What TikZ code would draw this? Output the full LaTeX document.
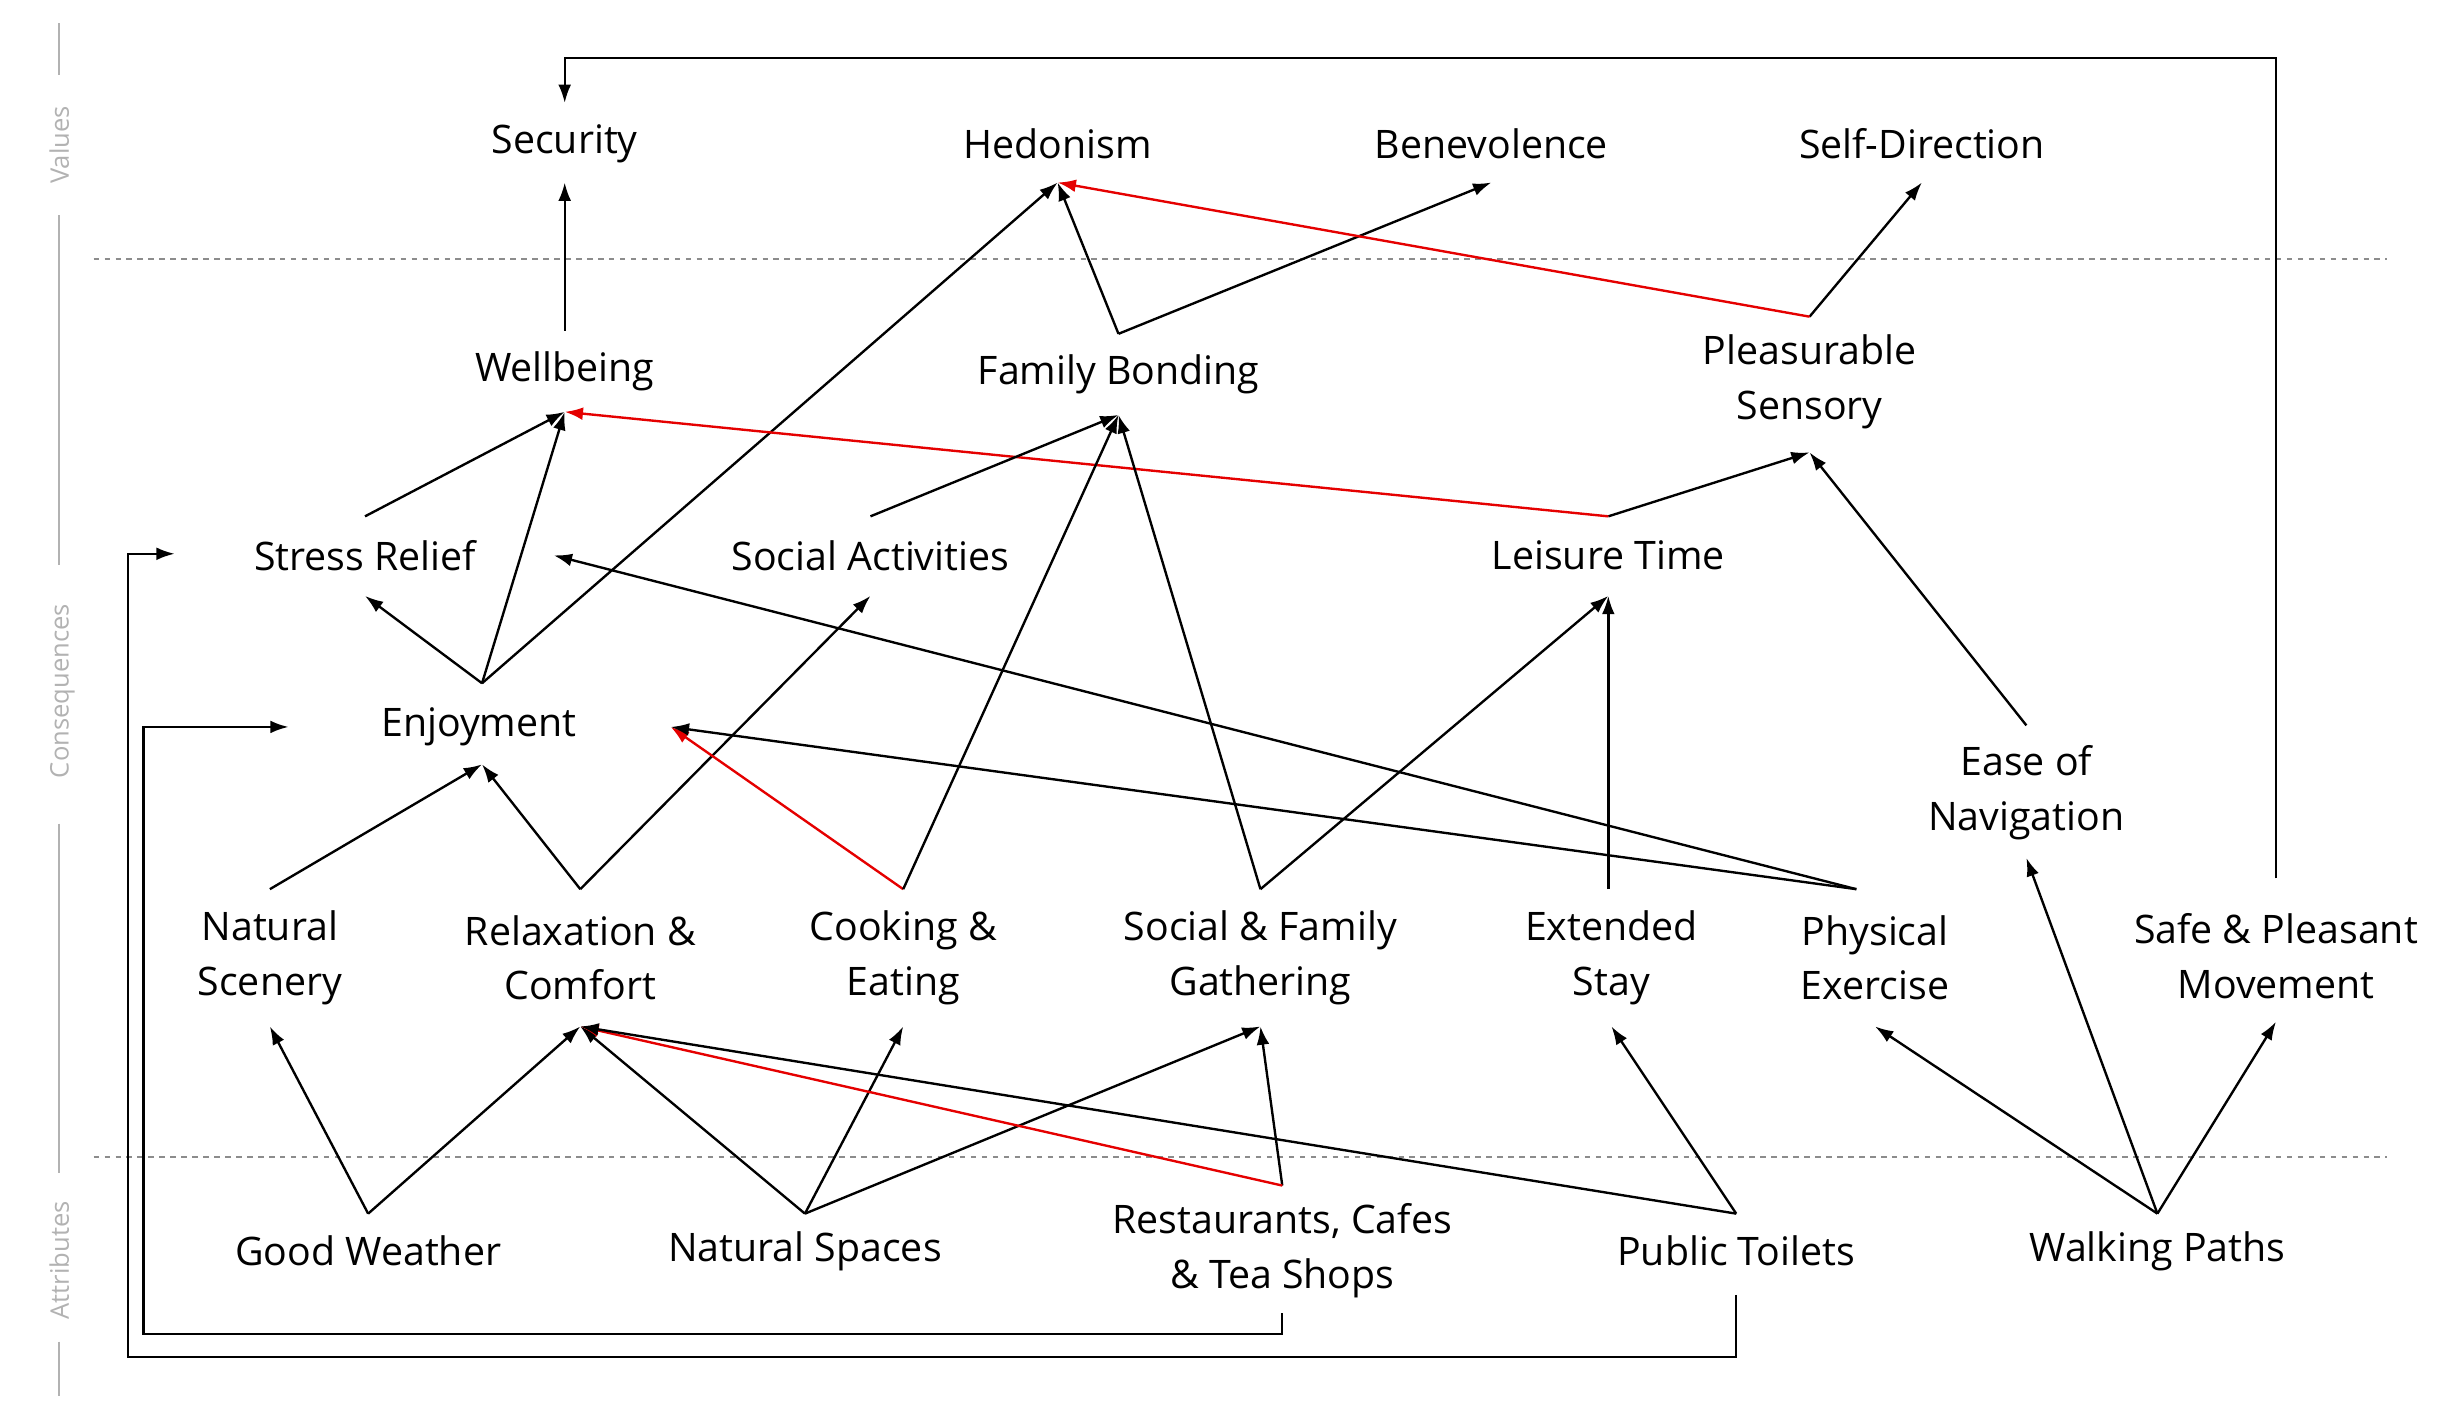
\documentclass[tikz,border=0pt]{standalone}
\usepackage{fontspec}
\setmainfont{Open Sans}
\usetikzlibrary{arrows.meta}
\begin{document}
\begin{tikzpicture}[x=0.03cm,y=-0.03cm,
 lbl/.style={font=\fontsize{21.5}{30}\selectfont,align=center,inner sep=0pt},
 ax/.style={font=\fontsize{14}{16}\selectfont,text=black!30,rotate=90},
 ar/.style={-{Latex[length=10pt,width=7pt]},line width=1.3pt},
 rd/.style={ar,red!90!black},
 sep/.style={black!45,dashed,line width=1.1pt}]
\useasboundingbox (0,0) rectangle (1568,905);
\fill[white] (0,0) rectangle (1568,905);
% axis
\draw[sep] (60,166) -- (1530,166);
\draw[sep] (60,742) -- (1530,742);
\draw[black!30,line width=1.1pt] (38,15)--(38,48) (38,138)--(38,362) (38,528)--(38,752) (38,860)--(38,895);
\node[ax] (vA) at (38,93) {Values};
\node[ax] (cA) at (40,443) {Consequences};
\node[ax] (aA) at (38,808) {Attributes};
% nodes
\node[lbl] (sec) at (362,92) {Security};
\node[lbl] (hed) at (678,92) {Hedonism};
\node[lbl] (ben) at (956,92) {Benevolence};
\node[lbl] (sd) at (1232,92) {Self-Direction};
\node[lbl] (wb) at (362,238) {Wellbeing};
\node[lbl] (fb) at (717,240) {Family Bonding};
\node[lbl] (ps) at (1160,245) {Pleasurable\\Sensory};
\node[lbl] (sr) at (234,356) {Stress Relief};
\node[lbl] (sa) at (558,356) {Social Activities};
\node[lbl] (lt) at (1031,356) {Leisure Time};
\node[lbl] (en) at (307,466) {Enjoyment};
\node[lbl] (eon) at (1299,508) {Ease of\\Navigation};
\node[lbl] (ns) at (173,614) {Natural\\Scenery};
\node[lbl] (rc) at (372,614) {Relaxation \&\\Comfort};
\node[lbl] (ce) at (579,614) {Cooking \&\\Eating};
\node[lbl] (sf) at (808,614) {Social \& Family\\Gathering};
\node[lbl] (es) at (1033,614) {Extended\\Stay};
\node[lbl] (pe) at (1202,614) {Physical\\Exercise};
\node[lbl] (sp) at (1459,613) {Safe \& Pleasant\\Movement};
\node[lbl] (gw) at (236,802) {Good Weather};
\node[lbl] (nsp) at (516,802) {Natural Spaces};
\node[lbl] (rs) at (822,802) {Restaurants, Cafes\\\& Tea Shops};
\node[lbl] (pt) at (1113,802) {Public Toilets};
\node[lbl] (wp) at (1383,802) {Walking Paths};
% anchor coordinates
\coordinate (secB) at (362,117); \coordinate (secT) at (362,66);
\coordinate (hedB) at (678,117); \coordinate (benB) at (956,117); \coordinate (sdB) at (1232,117);
\coordinate (wbT) at (362,212); \coordinate (wbB) at (362,264);
\coordinate (fbT) at (717,214); \coordinate (fbB) at (717,266);
\coordinate (psT) at (1160,203); \coordinate (psB) at (1160,290);
\coordinate (srT) at (234,331); \coordinate (srB) at (234,382); \coordinate (srR) at (355,356); \coordinate (srL) at (112,355);
\coordinate (saT) at (558,331); \coordinate (saB) at (558,382);
\coordinate (ltT) at (1031,331); \coordinate (ltB) at (1031,382);
\coordinate (enT) at (309,438); \coordinate (enB) at (309,490); \coordinate (enR) at (430,466); \coordinate (enL) at (185,466);
\coordinate (eonT) at (1299,465); \coordinate (eonB) at (1299,550);
\coordinate (nsT) at (173,570); \coordinate (nsB) at (173,658);
\coordinate (rcT) at (372,570); \coordinate (rcB) at (372,658);
\coordinate (ceT) at (579,570); \coordinate (ceB) at (579,658);
\coordinate (sfT) at (808,570); \coordinate (sfB) at (808,658);
\coordinate (esT) at (1031,570); \coordinate (esB) at (1033,658);
\coordinate (peT) at (1190,570); \coordinate (peB) at (1202,658);
\coordinate (spT) at (1459,563); \coordinate (spB) at (1459,655);
\coordinate (gwT) at (236,778); \coordinate (nspT) at (516,778);
\coordinate (rsT) at (822,760); \coordinate (rsB) at (822,842);
\coordinate (ptT) at (1113,778); \coordinate (ptB) at (1113,830);
\coordinate (wpT) at (1383,778);
% edges
\draw[ar] (wbT) -- (secB);
\draw[ar] (srT) -- (wbB);
\draw[ar] (enT) -- (wbB);
\draw[ar] (enT) -- (srB);
\draw[ar] (enT) -- (hedB);
\draw[ar] (fbT) -- (hedB);
\draw[ar] (fbT) -- (benB);
\draw[ar] (psT) -- (sdB);
\draw[rd] (psT) -- (hedB);
\draw[ar] (ltT) -- (psB);
\draw[rd] (ltT) -- (wbB);
\draw[ar] (saT) -- (fbB);
\draw[ar] (eonT) -- (psB);
\draw[ar] (nsT) -- (enB);
\draw[ar] (rcT) -- (enB);
\draw[ar] (rcT) -- (saB);
\draw[rd] (ceT) -- (enR);
\draw[ar] (ceT) -- (fbB);
\draw[ar] (sfT) -- (fbB);
\draw[ar] (sfT) -- (ltB);
\draw[ar] (esT) -- (ltB);
\draw[ar] (peT) -- (enR);
\draw[ar] (peT) -- (srR);
\draw[ar] (spT) -- (1459,37) -- (362,37) -- (secT);
\draw[ar] (gwT) -- (nsB);
\draw[ar] (gwT) -- (rcB);
\draw[ar] (nspT) -- (rcB);
\draw[ar] (nspT) -- (ceB);
\draw[ar] (nspT) -- (sfB);
\draw[ar] (rsT) -- (sfB);
\draw[rd] (rsT) -- (rcB);
\draw[ar] (ptT) -- (rcB);
\draw[ar] (ptT) -- (esB);
\draw[ar] (wpT) -- (peB);
\draw[ar] (wpT) -- (eonB);
\draw[ar] (wpT) -- (spB);
\draw[ar] (rsB) -- (822,855) -- (92,855) -- (92,466) -- (enL);
\draw[ar] (ptB) -- (1113,870) -- (82,870) -- (82,355) -- (srL);
\end{tikzpicture}
\end{document}
